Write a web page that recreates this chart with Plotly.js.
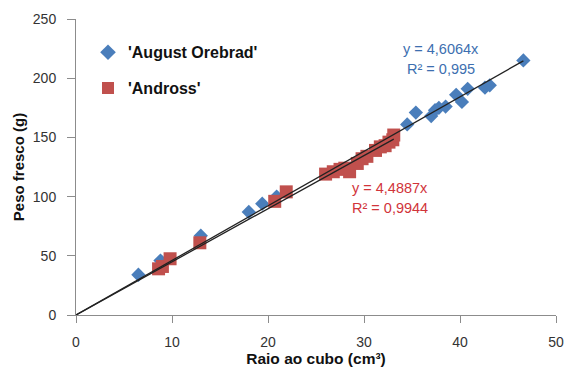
<!DOCTYPE html>
<html>
<head>
<meta charset="utf-8">
<script src="https://cdn.plot.ly/plotly-3.0.1.min.js"></script>
<style>html,body{margin:0;padding:0;background:#fff;}#chart{width:565px;height:367px;}</style>
</head>
<body>
<div id="chart"></div>
<script>
// 'August Orebrad' series
var augustX = [6.5, 8.8, 13.0, 18.0, 19.4, 20.9, 34.5, 35.4, 37.0, 37.4, 37.8, 38.5, 39.6, 40.2, 40.8, 42.6, 43.1, 46.6];
var augustY = [34, 46, 67, 87, 94, 100, 161, 171, 168, 173, 175, 176, 186, 180, 191, 192, 194, 215];
// 'Andross' series
var androssX = [8.6, 9.0, 9.8, 12.9, 20.7, 21.9, 26.0, 26.8, 27.5, 28.0, 28.5, 29.3, 29.8, 30.3, 31.2, 31.7, 32.2, 32.6, 33.0, 33.1];
var androssY = [39, 41, 47.5, 61, 96, 104, 119, 121, 123, 124, 121, 128, 132, 134, 139, 142, 143, 146, 148, 152];
// trendline slopes (through origin)
var slopeAugust = 4.6064;
var slopeAndross = 4.4887;
var seriesNames = ["'August Orebrad'", "'Andross'"];
var eqAugust = ["y = 4,6064x", "R² = 0,995"];
var eqAndross = ["y = 4,4887x", "R² = 0,9944"];
var xTitle = "Raio ao cubo (cm³)";
var yTitle = "Peso fresco (g)";

var fnt = "Liberation Sans, Arial, sans-serif";
var maxA = Math.max.apply(null, augustX);
var maxB = Math.max.apply(null, androssX);

var traces = [
  {x: augustX, y: augustY, mode: 'markers', type: 'scatter', name: seriesNames[0], legendgroup: 'a',
   marker: {symbol: 'diamond', size: 11, color: '#4a7ebb'}},
  {x: androssX, y: androssY, mode: 'markers', type: 'scatter', name: seriesNames[1], legendgroup: 'b',
   marker: {symbol: 'square', size: 13, color: '#c0504d'}},
  {x: [0, maxA], y: [0, slopeAugust * maxA], mode: 'lines', type: 'scatter', showlegend: false,
   line: {color: '#222', width: 1.3}, hoverinfo: 'skip'},
  {x: [0, maxB], y: [0, slopeAndross * maxB], mode: 'lines', type: 'scatter', showlegend: false,
   line: {color: '#222', width: 1.3}, hoverinfo: 'skip'}
];

var layout = {
  width: 565, height: 367,
  margin: {l: 76, r: 9, t: 19, b: 52},
  paper_bgcolor: '#fff', plot_bgcolor: '#fff',
  showlegend: true,
  legend: {x: 0.025, y: 0.945, xanchor: 'left', yanchor: 'top', bgcolor: 'rgba(0,0,0,0)',
           font: {family: fnt, size: 16, color: '#111', weight: 'bold'}, tracegroupgap: 12, itemsizing: 'constant'},
  xaxis: {range: [0, 50], dtick: 10, showgrid: false, zeroline: false, showline: true,
          linecolor: '#8c8c8c', linewidth: 1, ticks: 'outside', ticklen: 7, tickcolor: '#8c8c8c',
          tickfont: {family: fnt, size: 14, color: '#333'}, ticklabelstandoff: 7,
          title: {text: xTitle, font: {family: fnt, size: 15.5, color: '#111', weight: 'bold'}, standoff: 1},
          fixedrange: true},
  yaxis: {range: [0, 250], dtick: 50, showgrid: false, zeroline: false, showline: true,
          linecolor: '#8c8c8c', linewidth: 1, ticks: 'outside', ticklen: 8, tickcolor: '#8c8c8c',
          tickfont: {family: fnt, size: 14, color: '#333'}, ticklabelstandoff: 8,
          title: {text: yTitle, font: {family: fnt, size: 15, color: '#111', weight: 'bold'}, standoff: 4},
          fixedrange: true},
  annotations: [
    {x: 38.0, y: 225, xref: 'x', yref: 'y', text: eqAugust[0], showarrow: false,
     font: {family: fnt, size: 14.5, color: '#3d6fb0'}},
    {x: 38.0, y: 208, xref: 'x', yref: 'y', text: eqAugust[1], showarrow: false,
     font: {family: fnt, size: 14.5, color: '#3d6fb0'}},
    {x: 32.7, y: 107, xref: 'x', yref: 'y', text: eqAndross[0], showarrow: false,
     font: {family: fnt, size: 14.5, color: '#d1343a'}},
    {x: 32.7, y: 90.5, xref: 'x', yref: 'y', text: eqAndross[1], showarrow: false,
     font: {family: fnt, size: 14.5, color: '#d1343a'}}
  ]
};

Plotly.newPlot('chart', traces, layout, {staticPlot: true, displayModeBar: false});
</script>
</body>
</html>
